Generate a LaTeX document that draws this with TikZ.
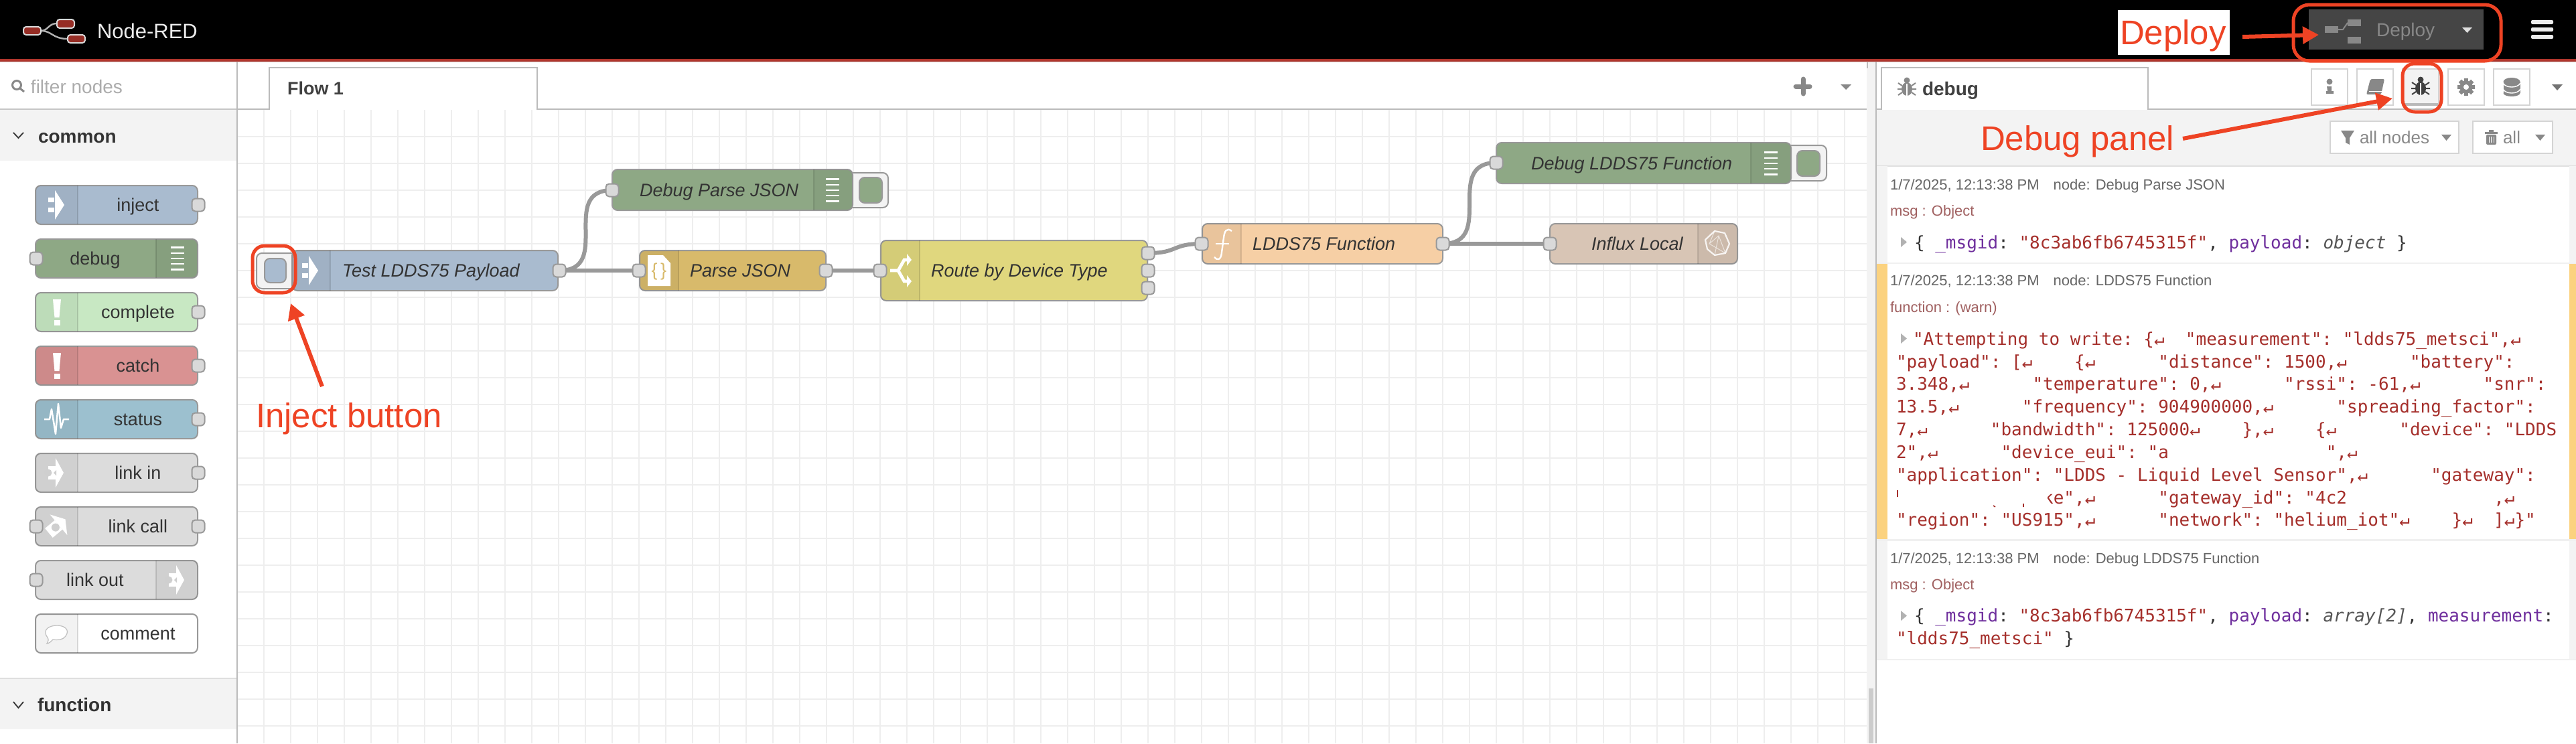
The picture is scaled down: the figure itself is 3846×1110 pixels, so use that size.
\documentclass[tikz,border=0pt]{standalone}
\usepackage{fontspec}
\setmainfont{Liberation Sans}
\newfontfamily\mono{DejaVu Sans Mono}
\usetikzlibrary{arrows.meta}
\pgfdeclarelayer{gridlayer}\pgfdeclarelayer{wirelayer}
\pgfsetlayers{gridlayer,wirelayer,main}
\definecolor{rd}{HTML}{EE4324}
\definecolor{hdrred}{HTML}{B0352C}
\definecolor{cInject}{HTML}{A9BBCF}
\definecolor{cDebug}{HTML}{8EA885}
\definecolor{cComplete}{HTML}{C8E8C3}
\definecolor{cCatch}{HTML}{D99292}
\definecolor{cStatus}{HTML}{9CC0CF}
\definecolor{cLink}{HTML}{DCDCDC}
\definecolor{cJson}{HTML}{D8BA6B}
\definecolor{cRoute}{HTML}{E0D77E}
\definecolor{cFunc}{HTML}{F6CFA5}
\definecolor{cInflux}{HTML}{D8C5B5}
\definecolor{panel}{HTML}{F3F3F3}
\definecolor{warnbar}{HTML}{FBD27F}
\definecolor{jkey}{HTML}{6F2F9D}
\definecolor{jstr}{HTML}{A52F2B}
\definecolor{jobj}{HTML}{555555}
\definecolor{meta}{HTML}{666666}
\definecolor{metab}{HTML}{A06060}
\newcommand\fsz[1]{\fontsize{#1}{#1}\selectfont}
\newcommand\Lab[5]{\node[lbl] (#1) at (#2,#3) {#4#5};}
\newcommand\CLab[5]{\node[clbl] (#1) at (#2,#3) {#4#5};}
% name x1 y1 x2 y2 fill ix1 ix2
\newcommand\FN[8]{%
  \node[flowbox,fill=#6,minimum width={(#4-#2)*0.5pt},minimum height={(#5-#3)*0.5pt}] (#1) at ({(#2+#4)/2},{(#3+#5)/2}) {};
  \begin{scope}
    \clip[rounded corners=4pt] (#2,#3) rectangle (#4,#5);
    \fill[black,opacity=.05] (#7,#3) rectangle (#8,#5);
    \ifdim#7pt>#2pt\draw[black,opacity=.12,line width=.75pt] (#7,#3) -- (#7,#5);\else\draw[black,opacity=.12,line width=.75pt] (#8,#3) -- (#8,#5);\fi
  \end{scope}}
\newcommand\Port[3]{\node[portbox] (#1) at (#2,#3) {};}
\newcommand\InjIco[2]{\begin{scope}[shift={(#1,#2)}]
  \fill[white] (0,-22) -- (14,0) -- (0,22) -- cycle;
  \fill[white] (-10,-11) rectangle (-1,-4); \fill[white] (-10,4) rectangle (-1,11);
\end{scope}}
\newcommand\LinkIco[4]{\begin{scope}[shift={(#1,#2)},rotate=#3]
  \fill[white] (0,-22) -- (12,0) -- (0,22) -- cycle;
  \fill[white] (-11,-10) rectangle (0,10);
  \fill[#4] (-11,0) circle [radius=5.5];
  \fill[#4] (1,-4) -- (-3,0) -- (1,4) -- cycle;
\end{scope}}
\newcommand\Bars[2]{\foreach \k in {-2,...,2} \draw[white,line width=1.25pt] (#1,{#2+8.2*\k}) -- ({#1+20},{#2+8.2*\k});}
\newcommand\Bang[2]{\fill[white] ({#1-6},#2) -- ({#1+6},#2) -- ({#1+3.5},{#2+27}) -- ({#1-3.5},{#2+27}) -- cycle;
  \fill[white] ({#1-4.5},{#2+31}) rectangle ({#1+4.5},{#2+39});}
\newcommand\Tri[5]{\fill[#5] (#1,#2) -- (#3,#2) -- ({(#1+#3)/2},#4) -- cycle;}
\newcommand\BugIco[3]{\begin{scope}[shift={(#1,#2)}]
  \fill[#3] (0,-10) circle [radius=4.5];
  \fill[#3] (0,3) ellipse [x radius=8,y radius=10];
  \draw[#3,line width=1pt] (-13,-6) -- (-7,-2) (13,-6) -- (7,-2) (-14,3) -- (-7,3) (14,3) -- (7,3) (-13,12) -- (-7,8) (13,12) -- (7,8);
  \draw[white,line width=.6pt] (0,-5) -- (0,13);
\end{scope}}
\tikzset{
  x=0.5pt,y=-0.5pt,
  lbl/.style={anchor=base west,inner sep=0pt,outer sep=0pt,text=lbltxt},
  clbl/.style={anchor=base,inner sep=0pt,outer sep=0pt,text=lbltxt},
  flowbox/.style={draw=boxgrey,line width=1pt,rounded corners=4pt,inner sep=0pt,outer sep=0pt},
  portbox/.style={draw=boxgrey,fill=portgrey,line width=1pt,rounded corners=2.5pt,minimum width=9.5pt,minimum height=9.5pt,inner sep=0pt,outer sep=0pt},
  wire/.style={draw=boxgrey,line width=3pt},
  gridl/.style={draw=gridgrey,line width=1pt},
  rim/.style={draw=rimgrey,line width=1pt},
  annot/.style={draw=rd,line width=3pt,-{Triangle[length=12pt,width=12.5pt]}},
  hilite/.style={draw=rd,line width=2.5pt},
  redtext/.style={anchor=base west,inner sep=0pt,outer sep=0pt,text=rd,font=\fsz{25.5}},
  tabbtn/.style={draw=tabgrey,line width=1pt,fill=white},
}
\definecolor{lbltxt}{HTML}{333333}
\definecolor{boxgrey}{HTML}{999999}
\definecolor{portgrey}{HTML}{D9D9D9}
\definecolor{gridgrey}{HTML}{EEEEEE}
\definecolor{rimgrey}{HTML}{BBBBBB}
\definecolor{tabgrey}{HTML}{D4D4D4}
\definecolor{icogrey}{HTML}{888888}
\begin{document}
\begin{tikzpicture}
\useasboundingbox (0,0) rectangle (3846,1110);
% ---- grid
\begin{pgfonlayer}{gridlayer}
\fill[white] (0,0) rectangle (3846,1110);
\foreach \i in {0,...,59} \draw[gridl] ({393.5+40*\i},164) -- ({393.5+40*\i},1110);
\foreach \j in {0,...,22} \draw[gridl] (354,{204+40*\j}) -- (2787,{204+40*\j});
\end{pgfonlayer}
% ---- header
\fill[black] (0,0) rectangle (3846,88);
\fill[hdrred] (0,88) rectangle (3846,92);
\fill[rimgrey!80] (0,92) rectangle (3846,93);
\draw[draw=gray!60,line width=1.2pt] (61,46) .. controls (72,46) and (72,35) .. (85,35);
\draw[draw=gray!60,line width=1.2pt] (61,46) .. controls (78,46) and (78,58) .. (101,58);
\draw[draw=gray!30,fill=hdrred!85!black,line width=1pt,rounded corners=2pt] (35,40) rectangle (61,52);
\draw[draw=gray!30,fill=hdrred!85!black,line width=1pt,rounded corners=2pt] (85,29) rectangle (111,42);
\draw[draw=gray!30,fill=hdrred!85!black,line width=1pt,rounded corners=2pt] (101,52) rectangle (127,64);
\Lab{brand}{145}{57}{\fsz{15.5}\color{gray!15}}{Node-RED}
% deploy
\fill[white] (3162,15) rectangle (3329,82);
\node[redtext] (deploylbl) at (3165,66) {Deploy};
\fill[black!73] (3447,14) rectangle (3708,74);
\fill[icogrey] (3471,39) rectangle (3491,49);
\fill[icogrey] (3505,29) rectangle (3525,39);
\fill[icogrey] (3505,55) rectangle (3525,65);
\draw[icogrey,line width=1pt] (3491,44) -- (3498,44) -- (3505,34);
\Lab{deploybtn}{3548}{54}{\fsz{14}\color{icogrey}}{Deploy}
\Tri{3676}{41}{3691}{49}{gray!25}
\foreach \yy in {30,41,52} \fill[gray!15,rounded corners=1pt] (3779,\yy) rectangle (3812,{\yy+6});
% ---- left palette
\fill[white] (0,93) rectangle (353,1110);
\draw[icogrey,line width=1.5pt] (25,127) circle [radius=6.5];
\draw[icogrey,line width=1.5pt] (30,132) -- (36,137);
\Lab{filter}{46}{139}{\fsz{14}\color{gray!65}}{filter nodes}
\fill[panel] (0,163) rectangle (353,240);
\draw[draw=gray!45,line width=1pt] (0,162.5) -- (353,162.5);
\draw[lbltxt,line width=.9pt] (20,198) -- (27.5,206) -- (35,198);
\Lab{common}{57}{213}{\fsz{14}\bfseries}{common}
\fill[panel] (0,1013) rectangle (353,1089);
\draw[draw=gray!25,line width=1pt] (0,1012.5) -- (353,1012.5);
\draw[lbltxt,line width=.9pt] (20,1048) -- (27.5,1057) -- (35,1048);
\Lab{function}{56}{1062}{\fsz{14}\bfseries}{function}
\draw[rim] (353.5,92) -- (353.5,1110);
% palette nodes
\FN{pInject}{53}{277}{295}{335}{cInject}{53}{116}
\Port{pInjectO}{296}{306}
\CLab{pInjectL}{206}{315}{\fsz{13.5}}{inject}
\InjIco{82}{306}
\FN{pDebug}{53}{357}{295}{415}{cDebug}{233}{295}
\Port{pDebugI}{54}{386}
\CLab{pDebugL}{142}{395}{\fsz{13.5}}{debug}
\Bars{255}{386}
\FN{pComplete}{53}{437}{295}{495}{cComplete}{53}{116}
\Port{pCompleteO}{296}{466}
\CLab{pCompleteL}{206}{475}{\fsz{13.5}}{complete}
\Bang{85}{447}
\FN{pCatch}{53}{517}{295}{575}{cCatch}{53}{116}
\Port{pCatchO}{296}{546}
\CLab{pCatchL}{206}{555}{\fsz{13.5}}{catch}
\Bang{85}{527}
\FN{pStatus}{53}{597}{295}{655}{cStatus}{53}{116}
\Port{pStatusO}{296}{626}
\CLab{pStatusL}{206}{635}{\fsz{13.5}}{status}
\draw[white,line width=1.25pt,line join=round] (66,626) -- (74,626) -- (77,611) -- (83,648) -- (87,603) -- (91,639) -- (95,626) -- (103,626);
\FN{pLinkIn}{53}{677}{295}{735}{cLink}{53}{116}
\Port{pLinkInO}{296}{706}
\CLab{pLinkInL}{206}{715}{\fsz{13.5}}{link in}
\LinkIco{83}{706}{0}{cLink!94!black}
\FN{pLinkCall}{53}{757}{295}{815}{cLink}{53}{116}
\Port{pLinkCallI}{54}{786}
\Port{pLinkCallO}{296}{786}
\CLab{pLinkCallL}{206}{795}{\fsz{13.5}}{link call}
\begin{scope}[shift={(86,785)},rotate=40]
  \fill[white] (2,-20) -- (15,0) -- (2,20) -- cycle;
  \fill[white] (-17,-9) rectangle (2,9);
  \fill[cLink!94!black] (-4,0) circle [radius=6];
\end{scope}
\FN{pLinkOut}{53}{837}{295}{895}{cLink}{233}{295}
\Port{pLinkOutI}{54}{866}
\CLab{pLinkOutL}{142}{875}{\fsz{13.5}}{link out}
\LinkIco{263}{866}{0}{cLink!94!black}
\FN{pComment}{53}{917}{295}{975}{white}{53}{116}
\CLab{pCommentL}{206}{955}{\fsz{13.5}}{comment}
\draw[draw=gray!50,fill=white,line width=.6pt] (71,952) .. controls (62,940) and (74,934) .. (85,934) .. controls (96,934) and (105,940) .. (98,950) .. controls (94,956) and (85,956) .. (79,955) .. controls (76,958) and (73,961) .. (70,961) .. controls (72,958) and (73,955) .. (71,952) -- cycle;
% ---- workspace tab bar
\draw[rim] (353,163) -- (402,163);
\draw[rim] (802,163) -- (2788,163);
\fill[white] (402,101) rectangle (802,164);
\draw[rim] (402,164) -- (402,101) -- (802,101) -- (802,164);
\Lab{flowtab}{429}{141}{\fsz{13.5}\bfseries\color{black!75}}{Flow 1}
\draw[icogrey,line width=3.5pt,line cap=round] (2681,129) -- (2702,129) (2692,118) -- (2692,140);
\Tri{2748}{126}{2764}{134}{icogrey}
\fill[panel] (2787,92.5) rectangle (2800,1110);
\draw[rim] (2788,93) -- (2788,102);
\fill[gray!40] (2790,1028) rectangle (2797,1110);
% ---- inject button and toggles (behind their nodes)
\draw[flowbox,fill=panel] (383,378) rectangle (445,431);
\draw[flowbox,fill=panel] (1260,258) rectangle (1326,310);
\draw[flowbox,fill=panel] (2660,217) rectangle (2727,270);
% ---- flow nodes
\FN{test}{436}{374}{833}{434}{cInject}{436}{493}
\InjIco{461}{404}
\node[flowbox,fill=cInject,minimum width=16pt,minimum height=18pt] (testbtn) at (411,404) {};
\Lab{testL}{511}{413}{\fsz{13.5}\itshape}{Test LDDS75 Payload}
\Port{testO}{835}{404}
\FN{parse}{955}{374}{1233}{434}{cJson}{955}{1013}
\fill[white] (967,381) -- (990,381) -- (1001,393) -- (1001,427) -- (967,427) -- cycle;
\CLab{parseIco}{984}{412}{\fsz{13.5}\color{cJson}}{\{\,\}}
\Lab{parseL}{1030}{413}{\fsz{13.5}\itshape}{Parse JSON}
\Port{parseI}{954}{404}
\Port{parseO}{1233}{404}
\FN{dbgParse}{914}{253}{1273}{314}{cDebug}{1215}{1273}
\Bars{1233}{284}
\node[flowbox,fill=cDebug,minimum width=17pt,minimum height=19pt] (dbgParseBtn) at (1300,284) {};
\Lab{dbgParseL}{955}{293}{\fsz{13.5}\itshape}{Debug Parse JSON}
\Port{dbgParseI}{914}{284}
\FN{route}{1315}{359}{1713}{449}{cRoute}{1315}{1373}
\begin{scope}[white]
  \draw[line width=2.4pt] (1329,404) -- (1341,404) -- (1350,388) -- (1355,388);
  \draw[line width=2.4pt] (1341,404) -- (1350,420) -- (1355,420);
  \fill (1354,379) -- (1361,388) -- (1354,397) -- cycle;
  \fill (1354,411) -- (1361,420) -- (1354,429) -- cycle;
\end{scope}
\Lab{routeL}{1390}{413}{\fsz{13.5}\itshape}{Route by Device Type}
\Port{routeI}{1314}{404}
\Port{routeA}{1714}{378}
\Port{routeB}{1714}{404}
\Port{routeC}{1714}{430}
\FN{func}{1795}{334}{2154}{394}{cFunc}{1795}{1853}
\draw[white,line width=1.2pt] (1839,345) .. controls (1831,339) and (1828,346) .. (1827,355) -- (1824,377) .. controls (1823,389) and (1817,389) .. (1813,384);
\draw[white,line width=1pt] (1815,364) -- (1835,364);
\Lab{funcL}{1870}{373}{\fsz{13.5}\itshape}{LDDS75 Function}
\Port{funcI}{1794}{364}
\Port{funcO}{2154}{364}
\FN{dbgFunc}{2234}{213}{2674}{274}{cDebug}{2614}{2674}
\Bars{2634}{244}
\node[flowbox,fill=cDebug,minimum width=17pt,minimum height=19pt] (dbgFuncBtn) at (2700,244) {};
\Lab{dbgFuncL}{2286}{253}{\fsz{13.5}\itshape}{Debug LDDS75 Function}
\Port{dbgFuncI}{2234}{243}
\FN{influx}{2314}{334}{2594}{394}{cInflux}{2535}{2594}
\draw[white,opacity=.85,line width=1.1pt,line join=round] (2546,358) -- (2560,345) -- (2575,348) -- (2582,364) -- (2576,378) -- (2560,381) -- (2549,372) -- cycle;
\draw[white,opacity=.6,line width=.5pt] (2560,345) -- (2552,364) -- (2576,378) -- (2566,352) -- (2552,364) (2560,381) -- (2566,352);
\Lab{influxL}{2376}{373}{\fsz{13.5}\itshape}{Influx Local}
\Port{influxI}{2314}{364}
% ---- wires
\begin{pgfonlayer}{wirelayer}
\draw[wire] (testO.center) .. controls +(80,0) and +(-80,0) .. (dbgParseI.center);
\draw[wire] (testO.center) -- (parseI.center);
\draw[wire] (parseO.center) -- (routeI.center);
\draw[wire] (routeA.center) .. controls +(45,0) and +(-45,0) .. (funcI.center);
\draw[wire] (funcO.center) .. controls +(80,0) and +(-80,0) .. (dbgFuncI.center);
\draw[wire] (funcO.center) -- (influxI.center);
\end{pgfonlayer}
% ---- right panel
\fill[white] (2801,93) rectangle (3846,163);
\draw[rim] (2801,163) -- (2809,163);
\draw[rim] (3207,163) -- (3846,163);
\draw[rim] (2809,164) -- (2809,101) -- (3207,101) -- (3207,164);
\BugIco{2847}{130}{icogrey}
\Lab{debugtab}{2870}{142}{\fsz{14}\bfseries\color{black!75}}{debug}
\draw[tabbtn] (3451,103) rectangle (3505,157);
\draw[tabbtn] (3519,103) rectangle (3573,157);
\draw[tabbtn,fill=panel] (3587,103) rectangle (3641,157);
\fill[gray!55] (3588,154) rectangle (3640,158);
\draw[tabbtn] (3655,103) rectangle (3709,157);
\draw[tabbtn] (3723,103) rectangle (3777,157);
\fill[icogrey] (3478,122) circle [radius=4.5];
\fill[icogrey] (3474,129) -- (3481,129) -- (3481,136) -- (3484,136) -- (3484,140) -- (3473,140) -- (3473,136) -- (3475,136) -- cycle;
\fill[icogrey,rounded corners=1pt] (3539,118) -- (3560,118) -- (3555,141) -- (3533,141) -- cycle;
\draw[white,line width=.5pt] (3537,136) -- (3556,136);
\BugIco{3614}{129}{black!75}
\fill[icogrey] (3682,130) circle [radius=9.5];
\foreach \a in {0,45,...,315} \fill[icogrey,rotate around={\a:(3682,130)}] (3679,117) rectangle (3685,123);
\fill[white] (3682,130) circle [radius=4];
\fill[icogrey] (3737.5,122) rectangle (3762.5,139);
\fill[icogrey] (3750,122) ellipse [x radius=12.5,y radius=6];
\fill[icogrey] (3750,139) ellipse [x radius=12.5,y radius=5];
\draw[white,line width=.7pt] (3737,124) .. controls (3741,132) and (3759,132) .. (3763,124);
\draw[white,line width=.7pt] (3737,133) .. controls (3741,141) and (3759,141) .. (3763,133);
\Tri{3810}{126}{3826}{135}{black!55}
% toolbar
\fill[panel] (2802,164) rectangle (3846,247);
\draw[draw=gray!25,line width=1pt] (2802,247.5) -- (3846,247.5);
\draw[tabbtn] (3479,181) rectangle (3671,229);
\fill[icogrey] (3495,195) -- (3515,195) -- (3508,206) -- (3508,216) -- (3502,213) -- (3502,206) -- cycle;
\Lab{allnodes}{3523}{214}{\fsz{13}\color{icogrey}}{all nodes}
\Tri{3645}{201}{3660}{210}{icogrey}
\draw[tabbtn] (3692,181) rectangle (3811,229);
\fill[icogrey] (3710,197) rectangle (3729,200);
\fill[icogrey] (3716,194) rectangle (3723,197);
\fill[icogrey,rounded corners=1pt] (3712,201) rectangle (3727,216);
\draw[white,line width=.4pt] (3716,204) -- (3716,213) (3719.5,204) -- (3719.5,213) (3723,204) -- (3723,213);
\Lab{allbtn}{3737}{214}{\fsz{13}\color{icogrey}}{all}
\Tri{3785}{201}{3800}{210}{icogrey}
% message backgrounds
\fill[panel] (2802,248) rectangle (2818,392);
\fill[panel] (3836,248) rectangle (3846,392);
\fill[gray!12] (2802,392) rectangle (3846,394);
\fill[warnbar] (2802,394) rectangle (2818,805);
\fill[warnbar] (3836,394) rectangle (3846,805);
\fill[gray!12] (2802,805) rectangle (3846,808);
\fill[panel] (2802,808) rectangle (2818,984);
\fill[panel] (3836,808) rectangle (3846,984);
\fill[gray!12] (2802,984) rectangle (3846,986);
\draw[rim] (2800.5,92) -- (2800.5,1110);
% message 1
\Lab{m1a}{2822}{283}{\fsz{11}\color{meta}}{1/7/2025, 12:13:38 PM\hspace{10.5pt}node: Debug Parse JSON}
\Lab{m1b}{2822}{322}{\fsz{11}\color{metab}}{msg : Object}
\fill[gray!60] (2838,354) -- (2847,361.5) -- (2838,369) -- cycle;
\Lab{m1c}{2858}{371}{\mono\fsz{13}}{\{~\textcolor{jkey}{\_msgid}:~\textcolor{jstr}{"8c3ab6fb6745315f"},~\textcolor{jkey}{payload}:~\textcolor{jobj}{\itshape object}~\}}
% message 2
\Lab{m2a}{2822}{426}{\fsz{11}\color{meta}}{1/7/2025, 12:13:38 PM\hspace{10.5pt}node: LDDS75 Function}
\Lab{m2b}{2822}{466}{\fsz{11}\color{metab}}{function : (warn)}
\fill[gray!60] (2838,498) -- (2847,505.5) -- (2838,513) -- cycle;
\Lab{m2l1}{2856}{515}{\mono\fsz{13}\color{jstr}}{"Attempting~to~write:~\{↵~~"measurement":~"ldds75\_metsci",↵}
\Lab{m2l2}{2831}{549}{\mono\fsz{13}\color{jstr}}{"payload":~[↵~~~~\{↵~~~~~~"distance":~1500,↵~~~~~~"battery":}
\Lab{m2l3}{2831}{582.5}{\mono\fsz{13}\color{jstr}}{3.348,↵~~~~~~"temperature":~0,↵~~~~~~"rssi":~-61,↵~~~~~~"snr":}
\Lab{m2l4}{2831}{616.5}{\mono\fsz{13}\color{jstr}}{13.5,↵~~~~~~"frequency":~904900000,↵~~~~~~"spreading\_factor":}
\Lab{m2l5}{2831}{650}{\mono\fsz{13}\color{jstr}}{7,↵~~~~~~"bandwidth":~125000↵~~~~\},↵~~~~\{↵~~~~~~"device":~"LDDS}
\Lab{m2l6}{2831}{684}{\mono\fsz{13}\color{jstr}}{2",↵~~~~~~"device\_eui":~"a~~~~~~~~~~~~~~~",↵}
\Lab{m2l7}{2831}{718}{\mono\fsz{13}\color{jstr}}{"application":~"LDDS~-~Liquid~Level~Sensor",↵~~~~~~"gateway":}
\Lab{m2l8}{2831}{752}{\mono\fsz{13}\color{jstr}}{~~~~~~~~~~~~~~ke",↵~~~~~~"gateway\_id":~"4c2~~~~~~~~~~~~~~,↵}
\fill[white] (3049,725) rectangle (3057,758);
\draw[jstr,line width=.8pt] (2833,732) -- (2833,742) (2976,755) -- (2979,757) (3021,752) -- (3021,757);
\Lab{m2l9}{2831}{785.5}{\mono\fsz{13}\color{jstr}}{"region":~"US915",↵~~~~~~"network":~"helium\_iot"↵~~~~\}↵~~]↵\}"}
% message 3
\Lab{m3a}{2822}{841}{\fsz{11}\color{meta}}{1/7/2025, 12:13:38 PM\hspace{10.5pt}node: Debug LDDS75 Function}
\Lab{m3b}{2822}{880}{\fsz{11}\color{metab}}{msg : Object}
\fill[gray!60] (2838,912) -- (2847,919.5) -- (2838,927) -- cycle;
\Lab{m3c}{2858}{928}{\mono\fsz{13}}{\{~\textcolor{jkey}{\_msgid}:~\textcolor{jstr}{"8c3ab6fb6745315f"},~\textcolor{jkey}{payload}:~\textcolor{jobj}{\itshape array[2]},~\textcolor{jkey}{measurement}:}
\Lab{m3d}{2831}{962}{\mono\fsz{13}}{\textcolor{jstr}{"ldds75\_metsci"}~\}}
% ---- annotations
\draw[hilite,rounded corners=9pt] (377,367) rectangle (441,437);
\draw[hilite,rounded corners=12pt] (3424,7) rectangle (3734,91);
\draw[hilite,rounded corners=9pt] (3587,95) rectangle (3645,167);
\node[redtext] (injectlbl) at (382,638) {Inject button};
\node[redtext] (debuglbl) at (2957,224) {Debug panel};
\coordinate (ia) at (481,577); \coordinate (ib) at (434,453);
\coordinate (da) at (3348,55); \coordinate (db) at (3462,52);
\coordinate (pa) at (3259,207); \coordinate (pb) at (3572,147);
\draw[annot] (ia) -- (ib);
\draw[annot] (da) -- (db);
\draw[annot] (pa) -- (pb);
\end{tikzpicture}
\end{document}
